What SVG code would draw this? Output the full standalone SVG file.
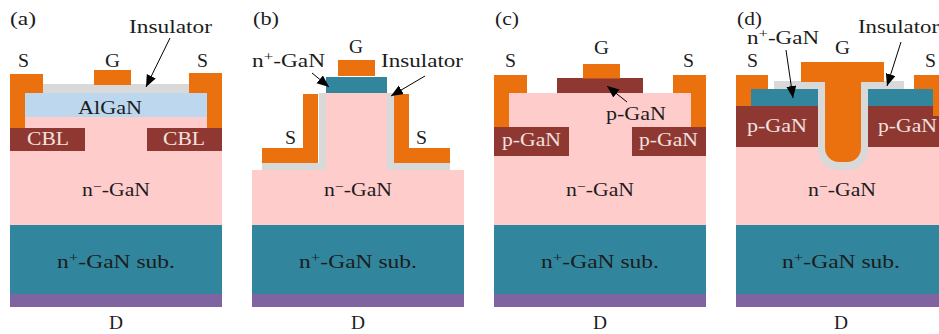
<svg xmlns="http://www.w3.org/2000/svg" width="939" height="334" viewBox="0 0 939 334">
<style>
text{font-family:"Liberation Serif","DejaVu Serif",serif;font-size:18px;fill:#1c1c1c}
.l{fill:#f2e2e0}
.s{font-size:13px}
.pink{fill:#ffcccc}.teal{fill:#31859c}.pur{fill:#8064a2}.or{fill:#eb710e}.gr{fill:#d9d9d9}.br{fill:#8f3831}.bl{fill:#bdd7ee}
.ar{fill:none;stroke:#000;stroke-width:1;marker-end:url(#h)}
</style>
<defs><marker id="h" markerUnits="userSpaceOnUse" markerWidth="13" markerHeight="11" refX="12" refY="5" orient="auto"><path d="M0 0L12 5L0 10Z" fill="#000"/></marker></defs>
<rect width="939" height="334" fill="#fff"/>
<g id="panel-a" lengthAdjust="spacingAndGlyphs">
<rect class="pink" x="10" y="117" width="212" height="108"/>
<rect class="teal" x="10" y="225" width="212" height="69"/>
<rect class="pur" x="10" y="294" width="212" height="13"/>
<rect class="bl" x="25" y="93" width="182" height="24"/>
<rect class="gr" x="43" y="84" width="146" height="9"/>
<path class="or" d="M10 74H43V93H25V128H10Z"/>
<path class="or" d="M189 73H222V128H207V93H189Z"/>
<rect class="or" x="94" y="70" width="37" height="15"/>
<rect class="br" x="10" y="128" width="75" height="23"/>
<rect class="br" x="147" y="128" width="75" height="23"/>
<text lengthAdjust="spacingAndGlyphs" x="10" y="25" textLength="26">(a)</text>
<text lengthAdjust="spacingAndGlyphs" x="129" y="33" textLength="83">Insulator</text>
<text lengthAdjust="spacingAndGlyphs" x="18" y="67" textLength="11">S</text>
<text lengthAdjust="spacingAndGlyphs" x="105" y="67" textLength="15">G</text>
<text lengthAdjust="spacingAndGlyphs" x="197" y="67" textLength="11">S</text>
<text lengthAdjust="spacingAndGlyphs" x="78" y="114" textLength="64">AlGaN</text>
<text class="l" lengthAdjust="spacingAndGlyphs" x="27" y="145" textLength="42">CBL</text>
<text class="l" lengthAdjust="spacingAndGlyphs" x="163" y="145" textLength="42">CBL</text>
<text lengthAdjust="spacingAndGlyphs" textLength="68" x="82" y="196">n<tspan class="s" dy="-5">−</tspan><tspan dy="5">-GaN</tspan></text>
<text lengthAdjust="spacingAndGlyphs" textLength="118" x="57" y="268">n<tspan class="s" dy="-6">+</tspan><tspan dy="6">-GaN sub.</tspan></text>
<text lengthAdjust="spacingAndGlyphs" x="109" y="329" textLength="14">D</text>
</g>
<g id="panel-b">
<rect class="pink" x="252" y="170" width="212" height="55"/>
<rect class="pink" x="326" y="93" width="61" height="77"/>
<rect class="teal" x="252" y="225" width="212" height="69"/>
<rect class="pur" x="252" y="294" width="212" height="13"/>
<path class="gr" d="M319 93H326V170H262V163H319Z"/>
<path class="gr" d="M387 93H394V163H450V170H387Z"/>
<path class="or" d="M303 94H318V163H262V148H303Z"/>
<path class="or" d="M394 94H409V148H450V163H394Z"/>
<rect class="teal" x="326" y="77" width="61" height="16"/>
<rect class="or" x="338" y="60" width="37" height="16"/>
<text lengthAdjust="spacingAndGlyphs" x="253" y="25" textLength="26">(b)</text>
<text lengthAdjust="spacingAndGlyphs" x="349" y="53" textLength="14">G</text>
<text lengthAdjust="spacingAndGlyphs" textLength="73" x="252" y="67">n<tspan class="s" dy="-6">+</tspan><tspan dy="6">-GaN</tspan></text>
<text lengthAdjust="spacingAndGlyphs" x="381" y="67" textLength="82">Insulator</text>
<text lengthAdjust="spacingAndGlyphs" x="285" y="144" textLength="11">S</text>
<text lengthAdjust="spacingAndGlyphs" x="416" y="144" textLength="11">S</text>
<text lengthAdjust="spacingAndGlyphs" textLength="68" x="324" y="196">n<tspan class="s" dy="-5">−</tspan><tspan dy="5">-GaN</tspan></text>
<text lengthAdjust="spacingAndGlyphs" textLength="118" x="299" y="268">n<tspan class="s" dy="-6">+</tspan><tspan dy="6">-GaN sub.</tspan></text>
<text lengthAdjust="spacingAndGlyphs" x="351" y="329" textLength="14">D</text>
</g>
<g id="panel-c">
<rect class="pink" x="509" y="93" width="182" height="34"/>
<rect class="pink" x="494" y="127" width="212" height="98"/>
<rect class="teal" x="494" y="225" width="212" height="69"/>
<rect class="pur" x="494" y="294" width="212" height="13"/>
<path class="or" d="M494 75H527V93H509V127H494Z"/>
<path class="or" d="M673 75H706V127H691V93H673Z"/>
<rect class="br" x="557" y="78" width="86" height="15"/>
<rect class="or" x="583" y="64" width="37" height="14.500"/>
<rect class="br" x="494" y="127" width="75" height="29"/>
<rect class="br" x="632" y="127" width="74" height="29"/>
<text lengthAdjust="spacingAndGlyphs" x="495" y="25" textLength="24">(c)</text>
<text lengthAdjust="spacingAndGlyphs" x="594" y="54" textLength="15">G</text>
<text lengthAdjust="spacingAndGlyphs" x="505" y="67" textLength="11">S</text>
<text lengthAdjust="spacingAndGlyphs" x="683" y="67" textLength="11">S</text>
<text lengthAdjust="spacingAndGlyphs" x="606" y="120" textLength="60">p-GaN</text>
<text class="l" lengthAdjust="spacingAndGlyphs" x="502" y="146" textLength="59">p-GaN</text>
<text class="l" lengthAdjust="spacingAndGlyphs" x="639" y="146" textLength="59">p-GaN</text>
<text lengthAdjust="spacingAndGlyphs" textLength="68" x="566" y="196">n<tspan class="s" dy="-5">−</tspan><tspan dy="5">-GaN</tspan></text>
<text lengthAdjust="spacingAndGlyphs" textLength="118" x="541" y="268">n<tspan class="s" dy="-6">+</tspan><tspan dy="6">-GaN sub.</tspan></text>
<text lengthAdjust="spacingAndGlyphs" x="593" y="329" textLength="14">D</text>
</g>
<g id="panel-d">
<rect class="pink" x="736" y="147" width="203" height="78"/>
<rect class="teal" x="736" y="225" width="203" height="69"/>
<rect class="pur" x="736" y="294" width="203" height="13"/>
<path class="or" d="M736 75H768V89H751V116H736Z"/>
<path class="or" d="M914 75H939V116H933V89H914Z"/>
<rect class="teal" x="751" y="89" width="67" height="17"/>
<rect class="teal" x="868" y="89" width="65" height="17"/>
<rect class="br" x="736" y="106" width="82" height="41"/>
<path class="br" d="M868 106H933V116H939V147H868Z"/>
<rect class="gr" x="774" y="81" width="130" height="8"/>
<path class="gr" d="M818 82H868V150A20 20 0 0 1 848 170H838A20 20 0 0 1 818 150Z"/>
<path class="or" d="M801 62H884V82H861V148A14 14 0 0 1 847 162H839A14 14 0 0 1 825 148V82H801Z"/>
<text lengthAdjust="spacingAndGlyphs" x="737" y="25" textLength="25">(d)</text>
<text lengthAdjust="spacingAndGlyphs" textLength="72" x="747" y="44">n<tspan class="s" dy="-6">+</tspan><tspan dy="6">-GaN</tspan></text>
<text lengthAdjust="spacingAndGlyphs" x="835" y="54" textLength="15">G</text>
<text lengthAdjust="spacingAndGlyphs" x="747" y="67" textLength="11">S</text>
<text lengthAdjust="spacingAndGlyphs" x="858" y="33" textLength="81">Insulator</text>
<text lengthAdjust="spacingAndGlyphs" x="925" y="67" textLength="11">S</text>
<text class="l" lengthAdjust="spacingAndGlyphs" x="747" y="132" textLength="60">p-GaN</text>
<text class="l" lengthAdjust="spacingAndGlyphs" x="878" y="132" textLength="59">p-GaN</text>
<text lengthAdjust="spacingAndGlyphs" textLength="68" x="808" y="196">n<tspan class="s" dy="-5">−</tspan><tspan dy="5">-GaN</tspan></text>
<text lengthAdjust="spacingAndGlyphs" textLength="118" x="782" y="268">n<tspan class="s" dy="-6">+</tspan><tspan dy="6">-GaN sub.</tspan></text>
<text lengthAdjust="spacingAndGlyphs" x="834" y="329" textLength="14">D</text>
</g>
<g id="connectors">
<line class="ar" x1="170" y1="38" x2="146" y2="87"/>
<line class="ar" x1="312" y1="73" x2="329" y2="87"/>
<line class="ar" x1="425" y1="76" x2="391" y2="96"/>
<line class="ar" x1="627" y1="102" x2="607" y2="86"/>
<line class="ar" x1="786" y1="50" x2="793" y2="98"/>
<line class="ar" x1="901" y1="42" x2="887" y2="86"/>
</g>
</svg>
